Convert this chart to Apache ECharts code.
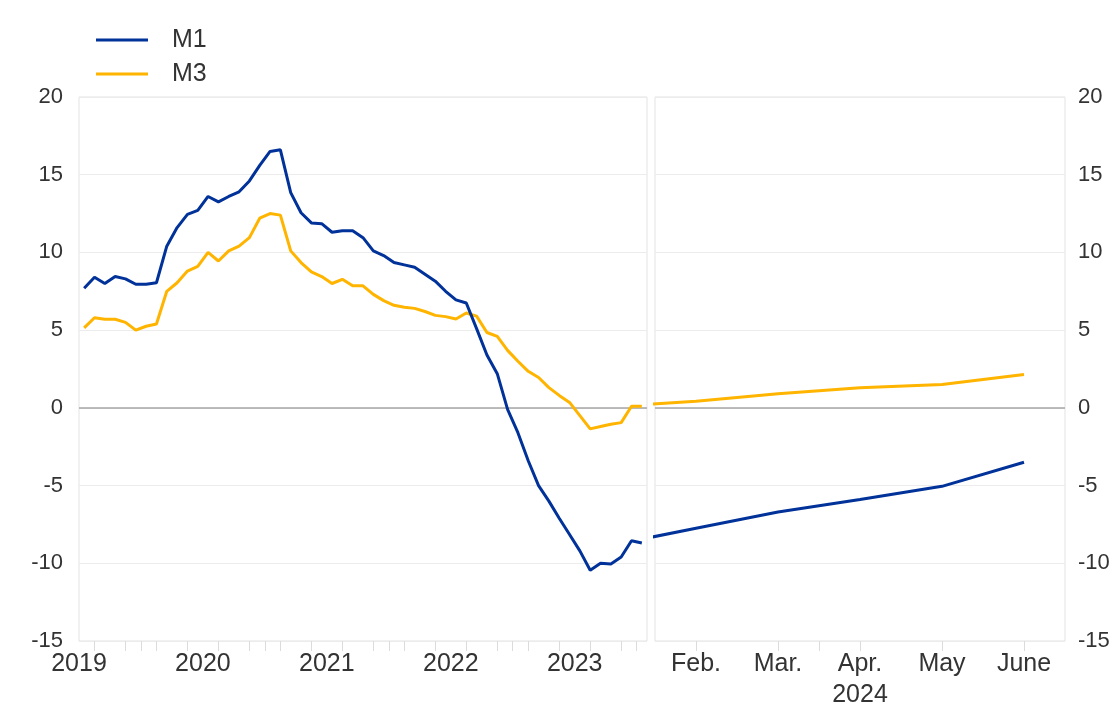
<!DOCTYPE html>
<html>
<head>
<meta charset="utf-8">
<script src="https://cdn.jsdelivr.net/npm/echarts@6/dist/echarts.min.js"></script>
<style>
html,body{margin:0;padding:0;background:#fff;}
#chart{width:1115px;height:707px;}
</style>
</head>
<body>
<div id="chart"></div>
<script>
// Left panel: monthly, July 2019 (index 0) to January 2024 (index 54)
const leftYears = ['2019', '2020', '2021', '2022', '2023'];
const leftYearLabelPos = [-0.5, 11.5, 23.5, 35.5, 47.5];
const leftTickPos = [1, 4, 5.5, 7, 10, 13, 16, 17.5, 19, 22, 25, 28, 29.5, 31, 34, 37, 40, 41.5, 43, 46, 49, 52, 53.5];
const m1Left = [7.7, 8.4, 8.0, 8.45, 8.3, 7.95, 7.95, 8.05, 10.4, 11.6, 12.45, 12.7,
  13.6, 13.25, 13.6, 13.9, 14.6, 15.6, 16.5, 16.6, 13.85, 12.55, 11.9, 11.85,
  11.3, 11.4, 11.4, 10.95, 10.1, 9.8, 9.35, 9.2, 9.05, 8.6, 8.15, 7.5,
  6.95, 6.75, 5.1, 3.4, 2.2, -0.1, -1.6, -3.4, -5.0, -6.0, -7.1, -8.15,
  -9.2, -10.45, -10.0, -10.05, -9.6, -8.55, -8.7];
const m3Left = [5.15, 5.8, 5.7, 5.7, 5.5, 5.0, 5.25, 5.4, 7.5, 8.05, 8.8, 9.1,
  10.0, 9.45, 10.1, 10.4, 10.95, 12.2, 12.5, 12.4, 10.1, 9.35, 8.75, 8.45,
  8.0, 8.27, 7.85, 7.85, 7.3, 6.9, 6.6, 6.47, 6.4, 6.2, 5.95, 5.87,
  5.72, 6.1, 5.9, 4.85, 4.6, 3.7, 3.0, 2.35, 1.95, 1.3, 0.8, 0.35,
  -0.5, -1.35, -1.2, -1.05, -0.95, 0.1, 0.1];

// Right panel: monthly 2024, Jan (index 0) to June (index 5)
const rightMonths = ['Jan.', 'Feb.', 'Mar.', 'Apr.', 'May', 'June'];
const rightLabelPos = [1, 2, 3, 4, 5];
const rightTickPos = [1, 2, 2.5, 3, 4, 5];
const rightYearLabel = '2024';
const m1Right = [-8.8, -7.75, -6.7, -5.9, -5.05, -3.5];
const m3Right = [0.1, 0.42, 0.9, 1.3, 1.5, 2.15];

const BLUE = '#003299';
const YELLOW = '#FFB400';
const FONT = 'Liberation Sans, Arial, sans-serif';
const TXT = '#333333';
const FS = 25;
const FS_Y = 22;

const pairs = arr => arr.map((v, i) => [i, v]);

const chart = echarts.init(document.getElementById('chart'), null, {renderer: 'canvas'});

const zeroLine = {
  silent: true,
  symbol: 'none',
  label: {show: false},
  lineStyle: {color: '#a6a6a6', width: 1.5, type: 'solid'},
  data: [{yAxis: 0}],
  z: 1
};

const gridStyle = {show: true, borderColor: '#e3e3e3', borderWidth: 1, backgroundColor: '#fff', outerBoundsMode: 'none', containLabel: false};

chart.setOption({
  animation: false,
  backgroundColor: '#ffffff',
  textStyle: {fontFamily: FONT},
  legend: {
    orient: 'vertical',
    left: 91,
    top: 21,
    icon: 'rect',
    itemWidth: 52,
    itemHeight: 3,
    itemGap: 6,
    data: ['M1', 'M3'],
    textStyle: {fontFamily: FONT, fontSize: FS, color: TXT, padding: [0, 0, 0, 19], lineHeight: 28}
  },
  grid: [
    Object.assign({left: 79, top: 97, width: 568, height: 544}, gridStyle),
    Object.assign({left: 655, top: 97, width: 410, height: 544}, gridStyle)
  ],
  xAxis: [
    {
      type: 'value', gridIndex: 0, min: -0.5, max: 54.5,
      splitLine: {show: false},
      axisLine: {show: false, onZero: false},
      axisTick: {show: true, customValues: leftTickPos, length: 10, lineStyle: {color: '#dcdcdc', width: 1}},
      axisLabel: {
        show: true, customValues: leftYearLabelPos, margin: 8,
        fontFamily: FONT, fontSize: FS, color: TXT, lineHeight: 31,
        formatter: v => {
          const k = leftYearLabelPos.findIndex(p => Math.abs(p - v) < 0.01);
          return k >= 0 ? leftYears[k] : '';
        }
      }
    },
    {
      type: 'value', gridIndex: 1, min: 0.5, max: 5.5,
      splitLine: {show: false},
      axisLine: {show: false, onZero: false},
      axisTick: {show: true, customValues: rightTickPos, length: 10, lineStyle: {color: '#dcdcdc', width: 1}},
      axisLabel: {
        show: true, customValues: rightLabelPos, margin: 8,
        fontFamily: FONT, fontSize: FS, color: TXT, lineHeight: 31,
        formatter: v => {
          const k = Math.round(v);
          const m = rightMonths[k] || '';
          return k === 3 ? m + '\n' + rightYearLabel : m;
        }
      }
    }
  ],
  yAxis: [
    {
      type: 'value', gridIndex: 0, min: -15, max: 20, interval: 5, position: 'left',
      axisLine: {show: false}, axisTick: {show: false},
      splitLine: {show: true, lineStyle: {color: '#ececec', width: 1}},
      axisLabel: {margin: 16, fontFamily: FONT, fontSize: FS_Y, color: TXT}
    },
    {
      type: 'value', gridIndex: 1, min: -15, max: 20, interval: 5, position: 'right',
      axisLine: {show: false}, axisTick: {show: false},
      splitLine: {show: true, lineStyle: {color: '#ececec', width: 1}},
      axisLabel: {margin: 13, fontFamily: FONT, fontSize: FS_Y, color: TXT}
    }
  ],
  series: [
    {name: 'M1', type: 'line', xAxisIndex: 0, yAxisIndex: 0, data: pairs(m1Left),
     symbol: 'none', lineStyle: {color: BLUE, width: 3}, itemStyle: {color: BLUE}, z: 3, markLine: zeroLine},
    {name: 'M3', type: 'line', xAxisIndex: 0, yAxisIndex: 0, data: pairs(m3Left),
     symbol: 'none', lineStyle: {color: YELLOW, width: 3}, itemStyle: {color: YELLOW}, z: 2},
    {name: 'M1', type: 'line', xAxisIndex: 1, yAxisIndex: 1, data: pairs(m1Right), clip: true,
     symbol: 'none', lineStyle: {color: BLUE, width: 3}, itemStyle: {color: BLUE}, z: 3, markLine: zeroLine},
    {name: 'M3', type: 'line', xAxisIndex: 1, yAxisIndex: 1, data: pairs(m3Right), clip: true,
     symbol: 'none', lineStyle: {color: YELLOW, width: 3}, itemStyle: {color: YELLOW}, z: 2}
  ]
});
</script>
</body>
</html>
